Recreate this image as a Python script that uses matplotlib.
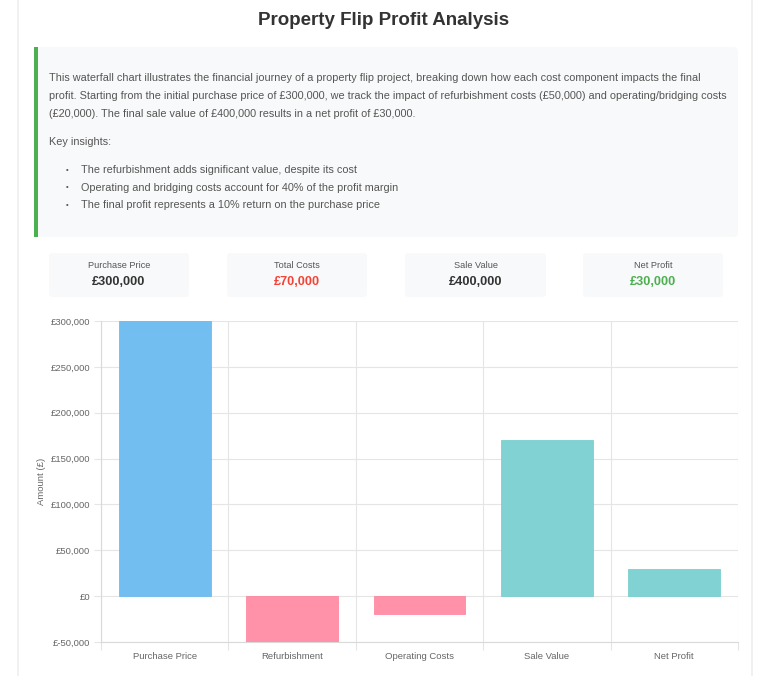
import matplotlib
matplotlib.use("Agg")
import matplotlib.pyplot as plt
from matplotlib.patches import FancyBboxPatch, Rectangle
from matplotlib.ticker import FuncFormatter, FixedLocator

plt.rcParams['font.family'] = ['Liberation Sans', 'DejaVu Sans']

# ---- data ----
categories = ['Purchase Price', 'Refurbishment', 'Operating Costs', 'Sale Value', 'Net Profit']
values = [300000, -50000, -20000, 170000, 30000]
bar_fill = ['#72bef1', '#ff92a8', '#ff92a8', '#81d3d3', '#81d3d3']
bar_edge = ['#5fb4ee', '#ff7d97', '#ff7d97', '#6ccaca', '#6ccaca']
yticks = [-50000, 0, 50000, 100000, 150000, 200000, 250000, 300000]

stat_labels = ['Purchase Price', 'Total Costs', 'Sale Value', 'Net Profit']
stat_values = ['£300,000', '£70,000', '£400,000', '£30,000']
stat_colors = ['#333333', '#f44336', '#333333', '#4caf50']

title = 'Property Flip Profit Analysis'
para_lines = [
    'This waterfall chart illustrates the financial journey of a property flip project, breaking down how each cost component impacts the final',
    'profit. Starting from the initial purchase price of £300,000, we track the impact of refurbishment costs (£50,000) and operating/bridging costs',
    '(£20,000). The final sale value of £400,000 results in a net profit of £30,000.',
]
key_title = 'Key insights:'
bullets = [
    'The refurbishment adds significant value, despite its cost',
    'Operating and bridging costs account for 40% of the profit margin',
    'The final profit represents a 10% return on the purchase price',
]

W, H = 768, 676
fig = plt.figure(figsize=(W / 100, H / 100), dpi=100)
fig.patch.set_facecolor('white')

def fx(x):
    return x / W

def fy(y):
    return 1 - y / H

def box(x0, y0, x1, y1, fc, ec='none', r=4, lw=0, z=-1):
    p = FancyBboxPatch((fx(x0), fy(y1)), fx(x1) - fx(x0), fy(y0) - fy(y1),
                       boxstyle=f"round,pad=0,rounding_size={r / W}",
                       transform=fig.transFigure, fc=fc, ec=ec, lw=lw, zorder=z)
    fig.patches.append(p)

# outer card
box(18, -5, 752, 690, 'white', ec='#e6e6e6', r=6, lw=0.8, z=-2)

# title
fig.text(fx(384), fy(20.5), title, ha='center', va='center', fontsize=13.5,
         fontweight='bold', color='#333333')

# description box
box(34, 47, 738, 237, '#f8f9fa', r=5)
fig.patches.append(Rectangle((fx(34), fy(237)), fx(4), fy(47) - fy(237),
                             transform=fig.transFigure, fc='#4caf50', ec='none', zorder=-0.5))
fs = 7.83
for i, line in enumerate(para_lines):
    fig.text(fx(49), fy(78 + i * 18), line, ha='left', va='center', fontsize=fs, color='#555555')
fig.text(fx(49), fy(142), key_title, ha='left', va='center', fontsize=fs, color='#555555')
for i, b in enumerate(bullets):
    fig.text(fx(66), fy(170 + i * 17.5), '•', ha='left', va='center', fontsize=5.5, color='#555555')
    fig.text(fx(81), fy(170 + i * 17.5), b, ha='left', va='center', fontsize=fs, color='#555555')

# stat cards
card_x = [(49, 189), (227, 367), (405, 546), (583, 723)]
for (x0, x1), lab, val, col in zip(card_x, stat_labels, stat_values, stat_colors):
    box(x0, 253, x1, 297, '#f8f9fa', r=4)
    cx = (x0 + x1) / 2
    fig.text(fx(cx), fy(265.5), lab, ha='center', va='center', fontsize=6.6, color='#555555')
    fig.text(fx(cx), fy(282), val, ha='center', va='center', fontsize=9.2,
             fontweight='bold', color=col)

# chart
ax = fig.add_axes([fx(101), fy(642), fx(738) - fx(101), fy(321) - fy(642)])
ax.set_zorder(5)
x = list(range(len(categories)))
ax.bar(x, values, width=0.72, color=bar_fill, edgecolor=bar_edge, linewidth=0.5, zorder=3)
ax.set_xlim(-0.5, len(categories) - 0.5)
ax.set_ylim(min(yticks), max(yticks))
ax.set_yticks(yticks)
ax.yaxis.set_major_formatter(FuncFormatter(lambda v, p: '£{:,.0f}'.format(v)))
ax.set_xticks(x)
ax.set_xticklabels(categories)
ax.xaxis.set_minor_locator(FixedLocator([i - 0.5 for i in range(len(categories) + 1)]))
ax.grid(axis='y', which='major', color='#e5e5e5', linewidth=0.8, zorder=0)
ax.grid(axis='x', which='minor', color='#e5e5e5', linewidth=0.8, zorder=0)
ax.tick_params(axis='x', which='major', length=0, labelsize=6.8, colors='#666666', pad=7.5)
ax.tick_params(axis='x', which='minor', length=6, color='#e5e5e5', width=0.8)
ax.tick_params(axis='y', length=5, color='#e5e5e5', width=0.8, labelsize=6.8, labelcolor='#666666', pad=3)
for s in ['top', 'right']:
    ax.spines[s].set_visible(False)
for s in ['left', 'bottom']:
    ax.spines[s].set_color('#d9d9d9')
    ax.spines[s].set_linewidth(0.8)
ax.set_facecolor('white')
fig.text(fx(42), fy(481), 'Amount (£)', rotation=90, ha='center', va='center',
         fontsize=6.8, color='#666666')

fig.savefig('out.png', dpi=100, facecolor='white')
